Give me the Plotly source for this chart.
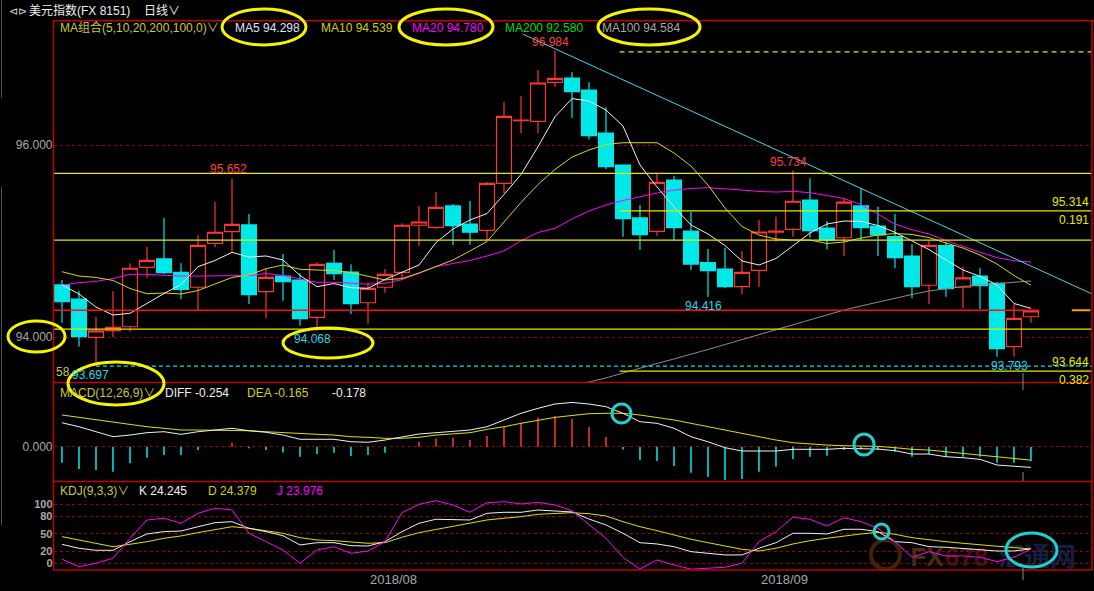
import plotly.graph_objects as go

W, H = 1094, 591

# ---------------- data ----------------
bar_index = list(range(58))

opens = [94.542, 94.396, 93.997, 94.066, 94.107, 94.726, 94.813, 94.674, 94.518, 94.976,
         95.097, 95.167, 94.472, 94.635, 94.594, 94.205, 94.768, 94.677, 94.357, 94.518,
         94.674, 95.164, 95.143, 95.365, 95.177, 95.111, 95.601, 96.255, 96.247, 96.653,
         96.698, 96.573, 96.125, 95.792, 95.240, 95.101, 95.635, 95.104, 94.774, 94.708,
         94.524, 94.695, 95.091, 95.122, 95.427, 95.135, 95.034, 95.365, 95.156, 95.045,
         94.844, 94.539, 94.951, 94.518, 94.635, 94.559, 93.899, 94.211]
highs = [94.594, 94.482, 94.211, 94.476, 94.768, 94.938, 95.240, 94.768, 95.059, 95.406,
         95.652, 95.281, 94.716, 94.865, 94.663, 94.778, 94.906, 94.757, 94.570, 94.708,
         95.184, 95.365, 95.510, 95.385, 95.417, 95.615, 96.448, 96.510, 96.781, 96.984,
         96.760, 96.653, 96.393, 95.792, 95.375, 95.698, 95.680, 95.305, 94.917, 94.930,
         94.896, 95.219, 95.253, 95.734, 95.653, 95.208, 95.445, 95.555, 95.358, 95.281,
         94.965, 95.003, 94.993, 94.732, 94.722, 94.576, 94.341, 94.285]
lows = [94.149, 93.899, 93.697, 93.997, 94.055, 94.618, 94.656, 94.393, 94.281, 94.934,
        94.889, 94.344, 94.195, 94.378, 94.118, 94.068, 94.594, 94.240, 94.139, 94.461,
        94.604, 94.951, 95.125, 94.958, 94.958, 95.010, 95.497, 96.122, 96.122, 96.607,
        96.284, 96.059, 95.747, 95.045, 94.906, 95.055, 95.010, 94.698, 94.416, 94.510,
        94.445, 94.524, 94.993, 95.045, 95.034, 94.913, 94.844, 95.000, 94.844, 94.716,
        94.403, 94.341, 94.420, 94.299, 94.292, 93.793, 93.795, 94.149]
closes = [94.368, 94.003, 94.063, 94.101, 94.716, 94.799, 94.670, 94.497, 94.955, 95.091,
          95.174, 94.441, 94.622, 94.576, 94.191, 94.757, 94.659, 94.347, 94.507, 94.653,
          95.164, 95.198, 95.351, 95.159, 95.091, 95.601, 96.299, 96.260, 96.646, 96.695,
          96.555, 96.097, 95.774, 95.233, 95.066, 95.611, 95.139, 94.760, 94.691, 94.524,
          94.674, 95.094, 95.104, 95.414, 95.107, 95.010, 95.406, 95.139, 95.063, 94.826,
          94.524, 94.955, 94.503, 94.615, 94.534, 93.878, 94.195, 94.271]

ma5 = [94.542, 94.448, 94.312, 94.229, 94.247, 94.354, 94.453, 94.547, 94.732, 94.797,
       94.882, 94.833, 94.844, 94.802, 94.641, 94.524, 94.557, 94.514, 94.507, 94.599,
       94.672, 94.750, 94.984, 95.125, 95.219, 95.286, 95.484, 95.693, 95.982, 96.295,
       96.484, 96.458, 96.365, 96.198, 95.792, 95.563, 95.354, 95.167, 95.073, 94.953,
       94.792, 94.750, 94.818, 94.948, 95.083, 95.177, 95.208, 95.205, 95.161, 95.091,
       95.002, 94.911, 94.802, 94.698, 94.632, 94.542, 94.349, 94.298]
ma10 = [94.680, 94.635, 94.620, 94.589, 94.505, 94.451, 94.458, 94.448, 94.484, 94.552,
        94.620, 94.646, 94.711, 94.750, 94.705, 94.698, 94.693, 94.672, 94.630, 94.594,
        94.609, 94.667, 94.734, 94.802, 94.896, 94.995, 95.198, 95.401, 95.589, 95.745,
        95.875, 95.948, 96.005, 96.024, 96.024, 96.024, 95.917, 95.781, 95.583, 95.344,
        95.151, 95.062, 95.021, 95.010, 95.010, 94.974, 94.990, 95.031, 95.062, 95.078,
        95.068, 95.036, 94.979, 94.927, 94.854, 94.760, 94.641, 94.539]
ma20 = [94.542, 94.565, 94.580, 94.609, 94.653, 94.653, 94.643, 94.635, 94.635, 94.637,
        94.644, 94.641, 94.661, 94.641, 94.604, 94.570, 94.571, 94.559, 94.550, 94.560,
        94.597, 94.664, 94.734, 94.766, 94.797, 94.844, 94.896, 95.002, 95.089, 95.132,
        95.229, 95.312, 95.375, 95.422, 95.464, 95.500, 95.531, 95.547, 95.555, 95.545,
        95.531, 95.516, 95.510, 95.518, 95.503, 95.474, 95.443, 95.380, 95.276, 95.177,
        95.118, 95.073, 95.005, 94.941, 94.882, 94.828, 94.794, 94.780]
ma100 = [None] * 30 + [93.490, 93.531, 93.573, 93.625, 93.677, 93.724, 93.771, 93.818, 93.870, 93.922,
                       93.974, 94.026, 94.078, 94.130, 94.180, 94.232, 94.281, 94.323, 94.365, 94.403,
                       94.443, 94.479, 94.505, 94.526, 94.542, 94.557, 94.568, 94.584]

macd_diff = [0.294, 0.245, 0.184, 0.123, 0.143, 0.172, 0.184, 0.152, 0.184, 0.205,
             0.226, 0.196, 0.177, 0.143, 0.091, 0.091, 0.091, 0.061, 0.054, 0.082,
             0.115, 0.156, 0.172, 0.184, 0.205, 0.245, 0.328, 0.410, 0.471, 0.524,
             0.543, 0.524, 0.491, 0.410, 0.307, 0.287, 0.226, 0.123, 0.061, -0.012,
             -0.053, -0.053, -0.053, -0.032, -0.032, -0.032, -0.020, -0.020, -0.029, -0.049,
             -0.090, -0.090, -0.123, -0.135, -0.155, -0.225, -0.237, -0.254]
macd_dea = [0.389, 0.360, 0.328, 0.294, 0.266, 0.245, 0.226, 0.205, 0.205, 0.205,
            0.205, 0.196, 0.184, 0.172, 0.156, 0.152, 0.143, 0.123, 0.115, 0.103,
            0.103, 0.115, 0.143, 0.156, 0.172, 0.213, 0.245, 0.287, 0.328, 0.360,
            0.383, 0.405, 0.410, 0.410, 0.389, 0.360, 0.328, 0.287, 0.245, 0.205,
            0.164, 0.123, 0.082, 0.049, 0.033, 0.020, 0.012, 0.008, 0.004, -0.012,
            -0.032, -0.041, -0.061, -0.082, -0.102, -0.123, -0.143, -0.165]
macd_hist = [-0.196, -0.274, -0.286, -0.307, -0.204, -0.135, -0.102, -0.102, -0.041, -0.005,
             0.049, -0.020, -0.041, -0.070, -0.123, -0.090, -0.074, -0.115, -0.102, -0.074,
             0.004, 0.061, 0.102, 0.110, 0.082, 0.131, 0.245, 0.294, 0.356, 0.376,
             0.340, 0.241, 0.119, -0.033, -0.164, -0.176, -0.237, -0.319, -0.368, -0.409,
             -0.397, -0.307, -0.245, -0.151, -0.123, -0.110, -0.041, -0.030, -0.041, -0.061,
             -0.123, -0.090, -0.123, -0.123, -0.123, -0.196, -0.196, -0.178]

kdj_k = [32.0, 25.4, 22.0, 22.0, 36.6, 49.7, 53.6, 54.7, 62.0, 68.8,
         70.5, 59.3, 53.6, 46.8, 31.0, 34.9, 34.9, 29.8, 29.3, 36.6,
         53.6, 67.8, 74.6, 74.6, 73.4, 84.7, 86.4, 86.4, 90.3, 88.6,
         87.0, 75.0, 64.9, 50.8, 34.9, 32.7, 28.1, 19.7, 16.9, 14.1,
         14.1, 25.4, 34.9, 50.8, 50.8, 49.7, 57.6, 57.6, 53.6, 36.6,
         34.9, 28.1, 27.1, 25.4, 22.5, 20.8, 20.8, 24.245]
kdj_d = [45.1, 39.5, 32.7, 28.1, 32.2, 36.6, 42.4, 46.3, 51.9, 57.6,
         62.0, 59.3, 54.7, 50.8, 43.4, 39.5, 38.3, 35.6, 33.9, 34.9,
         44.1, 51.9, 57.6, 63.2, 68.8, 73.4, 76.3, 79.0, 83.0, 84.7,
         85.8, 84.0, 80.2, 70.5, 62.0, 55.3, 48.0, 40.7, 34.9, 29.3,
         23.7, 20.8, 25.4, 32.7, 38.3, 42.4, 46.3, 49.7, 52.5, 49.2,
         43.4, 39.5, 36.6, 33.9, 31.0, 28.1, 26.4, 24.379]
kdj_j = [6.8, -5.7, 0.0, 8.5, 42.4, 73.4, 76.3, 67.8, 84.7, 93.2,
         90.3, 50.8, 36.6, 22.5, 0.0, 22.5, 28.1, 16.9, 20.8, 36.6,
         85.8, 100.0, 106.0, 98.8, 86.4, 102.7, 104.4, 100.5, 103.3, 98.8,
         89.0, 66.0, 42.4, 10.0, -9.7, 5.6, -2.9, -10.0, -8.5, -6.8,
         0.0, 36.6, 53.6, 78.0, 74.6, 63.2, 77.3, 70.5, 59.3, 36.6,
         10.2, 19.7, 12.4, 12.4, 10.2, 2.8, 10.2, 23.976]

month_labels = ["2018/08", "2018/09"]
month_ticks = [19.5, 42.5]
price_ticks = [94.0, 96.0]
macd_ticks = [0.0]
kdj_ticks = [0, 20, 50, 80, 100]

full_yellow_levels = [95.705, 95.010, 94.083]
fib_levels = [95.314, 93.644]
fib_top = 96.970
fib_start = 32.8
last_price = 94.278
low_mark = 93.697
trend_x = [27.1, 60.7]
trend_y = [97.156, 94.440]

# ---------------- styling ----------------
FONT = "Liberation Sans, Arial, Noto Sans CJK SC, sans-serif"
RED = "#ff3434"
CYAN = "#00e8e8"
YEL = "#e8e800"
MAG = "#ff00ff"
WHITE = "#f0f0f0"
GRAY = "#a8a8a8"
FRAME = "#c40000"
GRID = "#9a0000"
OLIVE = "#c8c83c"
XMIN, XMAX = -0.5, 60.59

fig = go.Figure()

fig.add_trace(go.Candlestick(
    x=bar_index, open=opens, high=highs, low=lows, close=closes,
    increasing=dict(line=dict(color=RED, width=1.2), fillcolor="#000000"),
    decreasing=dict(line=dict(color=CYAN, width=1.2), fillcolor=CYAN),
    whiskerwidth=0, xaxis="x", yaxis="y", hoverinfo="skip"))

for series, color in [(ma100, "#8c8c8c"), (ma20, MAG), (ma10, "#d8d800"), (ma5, WHITE)]:
    fig.add_trace(go.Scatter(x=bar_index, y=series, mode="lines",
                             line=dict(color=color, width=1), xaxis="x", yaxis="y",
                             hoverinfo="skip"))

fig.add_trace(go.Scatter(x=trend_x, y=trend_y, mode="lines",
                         line=dict(color="#3cd6ec", width=1), xaxis="x", yaxis="y",
                         hoverinfo="skip"))

# MACD
fig.add_trace(go.Bar(x=bar_index, y=macd_hist,
                     marker=dict(color=[RED if v > 0 else CYAN for v in macd_hist], line=dict(width=0)),
                     width=0.09, xaxis="x", yaxis="y2", hoverinfo="skip"))
fig.add_trace(go.Scatter(x=bar_index, y=macd_dea, mode="lines", line=dict(color="#e0e000", width=1),
                         xaxis="x", yaxis="y2", hoverinfo="skip"))
fig.add_trace(go.Scatter(x=bar_index, y=macd_diff, mode="lines", line=dict(color=WHITE, width=1),
                         xaxis="x", yaxis="y2", hoverinfo="skip"))

# KDJ
fig.add_trace(go.Scatter(x=bar_index, y=kdj_d, mode="lines", line=dict(color="#e0e000", width=1),
                         xaxis="x", yaxis="y3", hoverinfo="skip"))
fig.add_trace(go.Scatter(x=bar_index, y=kdj_k, mode="lines", line=dict(color=WHITE, width=1),
                         xaxis="x", yaxis="y3", hoverinfo="skip"))
fig.add_trace(go.Scatter(x=bar_index, y=kdj_j, mode="lines", line=dict(color=MAG, width=1),
                         xaxis="x", yaxis="y3", hoverinfo="skip"))


def px(x):
    return x / W


def py(y):
    return 1 - y / H


shapes = []
# level lines on price panel
for lvl in full_yellow_levels:
    shapes.append(dict(type="line", xref="x", yref="y", x0=XMIN, x1=XMAX, y0=lvl, y1=lvl,
                       line=dict(color=YEL, width=1.3)))
for lvl in fib_levels:
    shapes.append(dict(type="line", xref="x", yref="y", x0=fib_start, x1=XMAX, y0=lvl, y1=lvl,
                       line=dict(color=YEL, width=1.3)))
shapes.append(dict(type="line", xref="x", yref="y", x0=fib_start, x1=XMAX, y0=fib_top, y1=fib_top,
                   line=dict(color=YEL, width=1.3, dash="5px,4px")))
shapes.append(dict(type="line", xref="x", yref="y", x0=XMIN, x1=57.5, y0=last_price, y1=last_price,
                   line=dict(color="#ff1010", width=1.6)))
shapes.append(dict(type="line", xref="x", yref="y", x0=59.4, x1=60.5, y0=last_price, y1=last_price,
                   line=dict(color="#ffa000", width=2)))
shapes.append(dict(type="line", xref="x", yref="y", x0=2, x1=XMAX, y0=low_mark, y1=low_mark,
                   line=dict(color="#10d8e8", width=1.3, dash="4px,3px")))

# panel frames
for yy in [20.7, 382.5, 481.5, 570]:
    shapes.append(dict(type="line", xref="paper", yref="paper", x0=px(53.5), x1=px(1094 if yy == 20.7 else 1092),
                       y0=py(yy), y1=py(yy), line=dict(color=FRAME, width=1.5)))
for xx in [53.5, 1092]:
    shapes.append(dict(type="line", xref="paper", yref="paper", x0=px(xx), x1=px(xx),
                       y0=py(20.7), y1=py(570), line=dict(color=FRAME, width=1.5)))
# window edge and cursor marks
for y0, y1 in [(0, 98), (187, 525)]:
    shapes.append(dict(type="line", xref="paper", yref="paper", x0=px(1.5), x1=px(1.5),
                       y0=py(y0), y1=py(y1), line=dict(color="#505050", width=1)))
for y0, y1 in [(373, 390), (472, 481), (568, 580)]:
    shapes.append(dict(type="line", xref="paper", yref="paper", x0=px(1023), x1=px(1023),
                       y0=py(y0), y1=py(y1), line=dict(color="#8a8a8a", width=1)))

# highlight ellipses
for (x0, y0, x1, y1) in [(222, 9, 306, 45), (399, 9, 493, 45), (598, 9, 700, 45),
                         (8, 321, 65, 352), (283, 328, 373, 358), (68, 362, 164, 405)]:
    shapes.append(dict(type="circle", xref="paper", yref="paper", x0=px(x0), x1=px(x1),
                       y0=py(y1), y1=py(y0), line=dict(color="#f4f400", width=3)))
for (x0, y0, x1, y1) in [(612, 404, 631, 423), (854, 434, 874, 455),
                         (874, 524, 889, 539), (1006, 533, 1057, 567)]:
    shapes.append(dict(type="circle", xref="paper", yref="paper", x0=px(x0), x1=px(x1),
                       y0=py(y1), y1=py(y0), line=dict(color="#20d0d0", width=3)))

# watermark (below traces)
shapes.append(dict(type="circle", xref="paper", yref="paper", x0=px(871), x1=px(900),
                   y0=py(569), y1=py(540), layer="below",
                   line=dict(color="rgba(130,70,20,0.5)", width=4)))
for text, x0, x1, color in [("<b>FX</b>", 910, 944, "rgba(110,80,25,0.6)"),
                            ("<b>678</b>", 943, 990, "rgba(115,30,18,0.65)"),
                            ("<b>汇通网</b>", 996, 1078, "rgba(30,50,105,0.65)")]:
    shapes.append(dict(type="rect", xref="paper", yref="paper", x0=px(x0), x1=px(x1),
                       y0=py(569), y1=py(540), layer="below", line=dict(width=0),
                       fillcolor="rgba(0,0,0,0)",
                       label=dict(text=text, font=dict(family=FONT, size=26, color=color),
                                  textposition="middle center")))

annotations = []


def ptxt(text, x, y, color, size=12, xanchor="left", yanchor="middle"):
    annotations.append(dict(text=text, x=px(x), y=py(y), xref="paper", yref="paper",
                            showarrow=False, xanchor=xanchor, yanchor=yanchor,
                            font=dict(family=FONT, size=size, color=color)))


def dtxt(text, x, y, color, yanchor, xshift=0, yshift=0):
    annotations.append(dict(text=text, x=x, y=y, xref="x", yref="y", showarrow=False,
                            xanchor="center", yanchor=yanchor, xshift=xshift, yshift=yshift,
                            font=dict(family=FONT, size=12, color=color)))


# header
ptxt("⊲⊳", 7, 11, "#d0d0d0", 11)
ptxt("美元指数(FX 8151)", 27, 11, "#f0f0f0", 12)
ptxt("日线∨", 142, 11, "#f0f0f0", 12)
ptxt("MA组合(5,10,20,200,100,0)∨", 58, 27.5, OLIVE, 12)
ptxt("MA5 94.298", 233, 27.5, "#dce6ff", 12)
ptxt("MA10 94.539", 319, 27.5, "#d2d200", 12)
ptxt("MA20 94.780", 410, 27.5, MAG, 12)
ptxt("MA200 92.580", 503, 27.5, "#00dc00", 12)
ptxt("MA100 94.584", 600, 27.5, GRAY, 12)
# MACD / KDJ headers
ptxt("MACD(12,26,9)∨", 58, 392.5, OLIVE, 12)
ptxt("DIFF -0.254", 163, 392.5, "#f0f0f0", 12)
ptxt("DEA -0.165", 245, 392.5, "#d2d200", 12)
ptxt("-0.178", 330, 392.5, "#f0f0f0", 12)
ptxt("KDJ(9,3,3)∨", 58, 491, OLIVE, 12)
ptxt("K 24.245", 137, 491, "#f0f0f0", 12)
ptxt("D 24.379", 205.5, 491, "#d2d200", 12)
ptxt("J 23.976", 274.5, 491, MAG, 12)
# price marks
dtxt("96.984", 29, 96.984, "#ff4040", "bottom", xshift=-4)
dtxt("95.652", 10, 95.652, "#ff4040", "bottom", xshift=-3)
dtxt("95.734", 43, 95.734, "#ff4040", "bottom", xshift=-4)
dtxt("94.416", 38, 94.416, "#20d8e8", "top", xshift=-4)
dtxt("94.068", 15, 94.068, "#20d8e8", "top", xshift=-4)
dtxt("93.793", 55, 93.793, "#20d8e8", "top", xshift=13)
ptxt("58", 54, 372, OLIVE, 12)
dtxt("93.697", 2, 93.697, "#20d8e8", "top", xshift=-6)
for text, yy, anchor in [("95.314", 95.314, "bottom"), ("0.191", 95.314, "top"),
                         ("93.644", 93.644, "bottom"), ("0.382", 93.644, "top")]:
    annotations.append(dict(text=text, x=px(1091), y=yy, xref="paper", yref="y", showarrow=False,
                            xanchor="right", yanchor=anchor,
                            font=dict(family=FONT, size=12, color="#e8e800")))

axis_font = dict(family=FONT, size=12, color=GRAY)
common_y = dict(anchor="x", zeroline=False, showline=False, ticks="", showgrid=True,
                gridcolor=GRID, griddash="dot", gridwidth=1, fixedrange=True)

fig.update_layout(
    width=W, height=H, margin=dict(l=0, r=0, t=0, b=0),
    paper_bgcolor="#000000", plot_bgcolor="#000000",
    showlegend=False, boxgap=0.12, boxgroupgap=0, hovermode=False, dragmode=False,
    xaxis=dict(domain=[px(53.5), px(1092)], range=[XMIN, XMAX], anchor="y3",
               showgrid=False, zeroline=False, showline=False, ticks="",
               tickvals=month_ticks, ticktext=month_labels,
               tickfont=dict(family=FONT, size=13, color=GRAY),
               rangeslider=dict(visible=False), fixedrange=True),
    yaxis=dict(domain=[py(382.5), py(20.7)], range=[93.526, 97.295],
               tickvals=price_ticks, ticktext=[f"{v:.3f}" for v in price_ticks],
               tickfont=axis_font, **common_y),
    yaxis2=dict(domain=[py(481.5), py(382.5)], range=[-0.427, 0.788],
                tickvals=macd_ticks, ticktext=[f"{v:.3f}" for v in macd_ticks],
                tickfont=axis_font, **common_y),
    yaxis3=dict(domain=[py(570), py(481.5)], range=[-11.4, 138.6],
                tickvals=kdj_ticks, ticktext=[str(v) for v in kdj_ticks],
                tickfont=dict(family=FONT, size=11, color=GRAY, weight="bold"), **common_y),
    shapes=shapes, annotations=annotations,
)

fig.write_html("out.html", config={"displayModeBar": False, "staticPlot": True},
               post_script="document.body.style.margin='0';document.body.style.overflow='hidden';")
